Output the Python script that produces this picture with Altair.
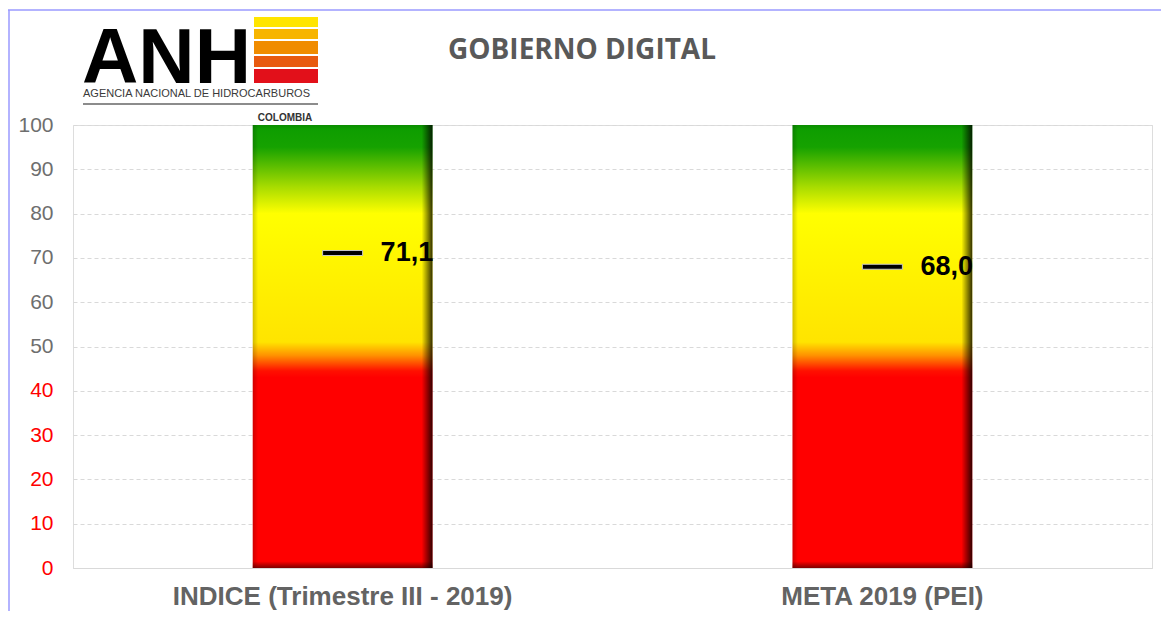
import altair as alt
import pandas as pd

# ---- data ----
categories = ["INDICE (Trimestre III - 2019)", "META 2019 (PEI)"]
values = [71.1, 68.0]
value_labels = ["71,1", "68,0"]
scale_max = [100, 100]
y_ticks = [0, 10, 20, 30, 40, 50, 60, 70, 80, 90, 100]
title_text = "GOBIERNO DIGITAL"
logo_big = "ANH"
logo_line1 = "AGENCIA NACIONAL DE HIDROCARBUROS"
logo_line2 = "COLOMBIA"
stripe_colors = ["#ffe500", "#f7b500", "#f08c00", "#e85a10", "#e2101a"]

df = pd.DataFrame({"cat": categories, "value": values, "label": value_labels, "top": scale_max})

GRAY = "#595959"
FONT = "Liberation Sans"

x_enc = alt.X(
    "cat:N", sort=categories,
    scale=alt.Scale(paddingInner=0.667, paddingOuter=0.333),
    axis=alt.Axis(title=None, labelAngle=0, labelFont=FONT, labelFontSize=26,
                  labelFontWeight="bold", labelColor="#636363", labelPadding=15,
                  ticks=False, domainColor="#d9d9d9", labelLimit=600, grid=False),
)
y_scale = alt.Scale(domain=[0, 100], nice=False)
y_axis = alt.Axis(values=y_ticks, title=None, ticks=False, domain=False, labelFont=FONT,
                  labelFontSize=21, labelPadding=20,
                  labelColor=alt.expr("datum.value <= 40 ? '#ff0000' : '#6e6e6e'"),
                  grid=True, gridDash=[4, 3], gridColor="#d9d9d9")

base = alt.Chart(df)

grad_fill = alt.Gradient(
    gradient="linear", x1=0, y1=0, x2=0, y2=1,
    stops=[
        alt.GradientStop(offset=0.0, color="#0c9c00"),
        alt.GradientStop(offset=0.05, color="#16a200"),
        alt.GradientStop(offset=0.14, color="#a8dc00"),
        alt.GradientStop(offset=0.2, color="#ffff00"),
        alt.GradientStop(offset=0.49, color="#ffe400"),
        alt.GradientStop(offset=0.52, color="#ff9200"),
        alt.GradientStop(offset=0.555, color="#ff1000"),
        alt.GradientStop(offset=0.57, color="#ff0000"),
        alt.GradientStop(offset=1.0, color="#ff0000"),
    ],
)
bars = base.mark_bar(fill=grad_fill).encode(
    x=x_enc, y=alt.Y("top:Q", scale=y_scale, axis=y_axis)
)

side_shade = alt.Gradient(
    gradient="linear", x1=0, y1=0, x2=1, y2=0,
    stops=[
        alt.GradientStop(offset=0.0, color="rgba(0,0,0,0.18)"),
        alt.GradientStop(offset=0.03, color="rgba(0,0,0,0)"),
        alt.GradientStop(offset=0.94, color="rgba(0,0,0,0)"),
        alt.GradientStop(offset=1.0, color="rgba(0,0,0,0.8)"),
    ],
)
bars_side = base.mark_bar(fill=side_shade).encode(
    x=alt.X("cat:N", sort=categories), y=alt.Y("top:Q")
)
bottom_shade = alt.Gradient(
    gradient="linear", x1=0, y1=0, x2=0, y2=1,
    stops=[
        alt.GradientStop(offset=0.0, color="rgba(0,0,0,0.1)"),
        alt.GradientStop(offset=0.01, color="rgba(0,0,0,0)"),
        alt.GradientStop(offset=0.985, color="rgba(0,0,0,0)"),
        alt.GradientStop(offset=1.0, color="rgba(0,0,0,0.5)"),
    ],
)
bars_bottom = base.mark_bar(fill=bottom_shade).encode(
    x=alt.X("cat:N", sort=categories), y=alt.Y("top:Q")
)

ticks = base.mark_tick(orient="horizontal", size=40, thickness=5, fill="black",
                       color="black", stroke="#c8c8c8", strokeWidth=1, opacity=1).encode(
    x=alt.X("cat:N", sort=categories), y=alt.Y("value:Q")
)
labels = base.mark_text(align="left", baseline="middle", dx=38, font=FONT,
                        fontWeight="bold", fontSize=27, color="black").encode(
    x=alt.X("cat:N", sort=categories), y=alt.Y("value:Q"), text="label:N"
)

# ---- decorations (title, logo) ----
def txt(s, **kw):
    return alt.Chart(pd.DataFrame({"t": [s]})).mark_text(**kw)

title = txt(title_text, font="Open Sans", fontWeight="bold", fontSize=28, color=GRAY,
            align="center", baseline="alphabetic").encode(
    text="t:N", x=alt.value(509), y=alt.value(-66))

logo_anh = txt(logo_big, font=FONT, fontWeight="bold", fontSize=78, color="black",
               align="left", baseline="alphabetic").encode(
    text="t:N", x=alt.value(9), y=alt.value(-42))
logo_l1 = txt(logo_line1, font=FONT, fontSize=11, color="#3a3a3a",
              align="left", baseline="alphabetic").encode(
    text="t:N", x=alt.value(10), y=alt.value(-28))
logo_l2 = txt(logo_line2, font=FONT, fontWeight="bold", fontSize=10, color="#333333",
              align="center", baseline="alphabetic").encode(
    text="t:N", x=alt.value(212), y=alt.value(-4))
one = pd.DataFrame({"k": [0]})
logo_rule = alt.Chart(one).mark_rule(color="#8c8c8c", strokeWidth=2).encode(
    x=alt.value(10), x2=alt.value(245), y=alt.value(-21))

stripe_layers = []
tops = [-108, -96, -84, -69, -56]
bots = [-98, -86, -71, -58, -42]
for c, t0, b0 in zip(stripe_colors, tops, bots):
    stripe_layers.append(
        alt.Chart(one).mark_rect(color=c).encode(
            x=alt.value(181), x2=alt.value(245), y=alt.value(t0), y2=alt.value(b0))
    )

frame_top = alt.Chart(one).mark_rule(color="#9a9aff", strokeWidth=1.5).encode(
    x=alt.value(-66), x2=alt.value(1100), y=alt.value(-115))
frame_left = alt.Chart(one).mark_rule(color="#9a9aff", strokeWidth=1.5).encode(
    x=alt.value(-64), y=alt.value(-115), y2=alt.value(500))

chart = alt.layer(
    bars, bars_side, bars_bottom, ticks, labels, title, logo_anh, logo_l1,
    logo_l2, logo_rule, *stripe_layers, frame_top, frame_left
).properties(
    width=1079, height=443,
    autosize=alt.AutoSizeParams(type="none"),
    padding={"left": 65, "top": 117, "right": 9, "bottom": 43},
).configure_view(stroke="#d9d9d9", strokeWidth=1.5).configure(background="white")

chart.save("out.html", embed_options={"renderer": "svg", "actions": False})
